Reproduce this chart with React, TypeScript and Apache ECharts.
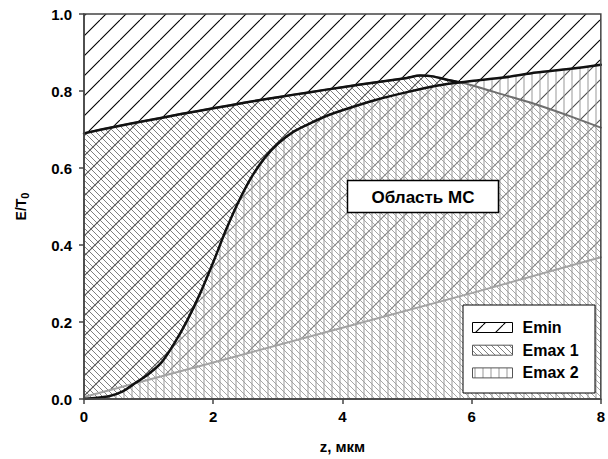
import React, { useEffect, useRef } from 'react';
import * as echarts from 'echarts';

// ---- data ----
const eminZ = [0, 2, 4, 6, 8];
const eminE = [0.005, 0.095, 0.185, 0.275, 0.368];

const emax1Z = [0, 0.5, 1, 1.5, 2, 2.5, 3, 3.5, 4, 4.5, 5, 5.2, 5.4, 5.6, 5.8, 6, 6.5, 7, 7.5, 8];
const emax1E = [0.69, 0.708, 0.724, 0.74, 0.755, 0.77, 0.784, 0.797, 0.81, 0.822, 0.834, 0.84, 0.838, 0.83, 0.823, 0.815, 0.79, 0.765, 0.736, 0.705];

const emax2Z = [0, 0.2, 0.4, 0.6, 0.8, 1.0, 1.2, 1.4, 1.6, 1.8, 2.0, 2.2, 2.4, 2.6, 2.8, 3.0, 3.25, 3.5, 3.75, 4.0, 4.5, 5.0, 5.5, 6.0, 6.5, 7.0, 7.5, 8.0];
const emax2E = [0.0, 0.003, 0.008, 0.02, 0.042, 0.065, 0.095, 0.145, 0.205, 0.275, 0.355, 0.44, 0.515, 0.578, 0.627, 0.663, 0.695, 0.716, 0.735, 0.75, 0.776, 0.797, 0.815, 0.826, 0.835, 0.848, 0.857, 0.868];

const crossingZ = 5.84;

const xTickValues = [0, 2, 4, 6, 8];
const xTickLabels = ['0', '2', '4', '6', '8'];
const yTickValues = [0, 0.2, 0.4, 0.6, 0.8, 1.0];
const yTickLabels = ['0.0', '0.2', '0.4', '0.6', '0.8', '1.0'];

const legendNames = ['Emin', 'Emax 1', 'Emax 2'];
const regionLabel = 'Область МС';

const FONT = '"Liberation Sans", Arial, sans-serif';

const pairs = (xs: number[], ys: number[]) => xs.map((x, i) => [x, ys[i]]);

type Kind = 'fwd' | 'back' | 'vert';

function makeHatch(kind: Kind) {
  const size = kind === 'fwd' ? 20 : kind === 'back' ? 6 : 8;
  const c = document.createElement('canvas');
  c.width = size;
  c.height = size;
  const ctx = c.getContext('2d')!;
  if (kind !== 'fwd') {
    ctx.fillStyle = 'rgba(255,255,255,0.3)';
    ctx.fillRect(0, 0, size, size);
  }
  ctx.beginPath();
  if (kind === 'fwd') {
    ctx.strokeStyle = '#000';
    ctx.lineWidth = 1.1;
    for (let k = -1; k <= 1; k++) {
      ctx.moveTo(k * size, size);
      ctx.lineTo(k * size + size, 0);
    }
  } else if (kind === 'back') {
    ctx.strokeStyle = '#808080';
    ctx.lineWidth = 1;
    for (let k = -1; k <= 1; k++) {
      ctx.moveTo(k * size, 0);
      ctx.lineTo(k * size + size, size);
    }
  } else {
    ctx.strokeStyle = '#999';
    ctx.lineWidth = 1;
    ctx.moveTo(size / 2, 0);
    ctx.lineTo(size / 2, size);
  }
  ctx.stroke();
  return { image: c, repeat: 'repeat', imageWidth: size, imageHeight: size } as any;
}

export default function App() {
  const ref = useRef<HTMLDivElement>(null);

  useEffect(() => {
    if (!ref.current) return;
    const chart = echarts.init(ref.current, undefined, { renderer: 'svg' });

    const kinds: Kind[] = ['fwd', 'back', 'vert'];
    const origins = ['end', 'start', 'start'];
    const datasets = [pairs(eminZ, eminE), pairs(emax1Z, emax1E), pairs(emax2Z, emax2E)];
    const smooths = [false, 0.25, 0.25];

    const areaSeries = legendNames.map((name, i) => ({
      name,
      type: 'line',
      data: datasets[i],
      symbol: 'none',
      smooth: smooths[i],
      lineStyle: { width: 0, opacity: 0 },
      areaStyle: { color: makeHatch(kinds[i]), origin: origins[i], opacity: 1 },
      z: 1 + i,
      silent: true,
    }));

    const envelope = pairs(emax1Z, emax1E).filter((p) => p[0] <= crossingZ);

    const lineSeries = [
      { name: 'Emin line', data: datasets[0], color: '#a3a3a3', width: 2, smooth: false },
      { name: 'Emax 1 line', data: datasets[1], color: '#6e6e6e', width: 2, smooth: 0.25 },
      { name: 'Emax 2 line', data: datasets[2], color: '#111', width: 2.5, smooth: 0.25 },
      { name: 'Envelope', data: envelope, color: '#111', width: 2.5, smooth: 0.25 },
    ].map((s, i) => ({
      name: s.name,
      type: 'line',
      data: s.data,
      symbol: 'none',
      smooth: s.smooth,
      lineStyle: { color: s.color, width: s.width, cap: 'round', join: 'round' },
      z: 10 + i,
      silent: true,
    }));

    const legendX = 463;
    const legendY = 305;
    const rowGap = 22.7;

    const legendChildren: any[] = [
      {
        type: 'rect',
        z: 100,
        shape: { x: 0, y: 0, width: 132, height: 88 },
        style: { fill: '#fff', stroke: '#000', lineWidth: 1 },
      },
    ];
    legendNames.forEach((name, i) => {
      legendChildren.push({
        type: 'rect',
        z: 101,
        shape: { x: 9.5, y: 17.5 + i * rowGap, width: 40, height: 10 },
        style: { fill: makeHatch(kinds[i]), stroke: i === 0 ? '#000' : '#555', lineWidth: 1 },
      });
      legendChildren.push({
        type: 'text',
        z: 101,
        x: 59.5,
        y: 22.5 + i * rowGap,
        style: {
          text: name,
          font: `bold 16px ${FONT}`,
          fill: '#000',
          align: 'left',
          verticalAlign: 'middle',
          textAlign: 'left',
          textVerticalAlign: 'middle',
        },
      });
    });

    chart.setOption({
      animation: false,
      backgroundColor: '#fff',
      grid: {
        left: 84,
        right: 4,
        top: 14,
        bottom: 59,
        show: true,
        borderColor: '#444',
        borderWidth: 1.5,
        backgroundColor: 'transparent',
        z: 20,
      },
      xAxis: {
        type: 'value',
        min: 0,
        max: 8,
        interval: 2,
        name: 'z, мкм',
        nameLocation: 'middle',
        nameGap: 40,
        nameTextStyle: { fontFamily: FONT, fontWeight: 'bold', fontSize: 15, color: '#000' },
        axisLine: { show: true, lineStyle: { color: '#444', width: 1.5 } },
        axisTick: { show: true, length: 5, lineStyle: { color: '#444', width: 1.5 } },
        axisLabel: {
          margin: 10,
          fontFamily: FONT,
          fontWeight: 'bold',
          fontSize: 15,
          color: '#000',
          formatter: (v: number) => {
            const idx = xTickValues.findIndex((t) => Math.abs(t - v) < 1e-9);
            return idx >= 0 ? xTickLabels[idx] : '';
          },
        },
        splitLine: { show: false },
        z: 20,
      },
      yAxis: {
        type: 'value',
        min: 0,
        max: 1,
        interval: 0.2,
        name: 'E/T{s|0}',
        nameLocation: 'middle',
        nameGap: 54,
        nameTextStyle: {
          fontFamily: FONT,
          fontWeight: 'bold',
          fontSize: 14,
          color: '#000',
          rich: { s: { fontFamily: FONT, fontWeight: 'bold', fontSize: 11, color: '#000', padding: [8, 0, 0, 0] } },
        },
        axisLine: { show: true, lineStyle: { color: '#444', width: 1.5 } },
        axisTick: { show: true, length: 5, lineStyle: { color: '#444', width: 1.5 } },
        axisLabel: {
          margin: 12,
          fontFamily: FONT,
          fontWeight: 'bold',
          fontSize: 15,
          color: '#000',
          formatter: (v: number) => {
            const idx = yTickValues.findIndex((t) => Math.abs(t - v) < 1e-9);
            return idx >= 0 ? yTickLabels[idx] : '';
          },
        },
        splitLine: { show: false },
        z: 20,
      },
      series: [...areaSeries, ...lineSeries],
      graphic: [
        {
          type: 'rect',
          z: 100,
          shape: { x: 347.5, y: 180.5, width: 151, height: 32 },
          style: { fill: '#fff', stroke: '#000', lineWidth: 1.5 },
        },
        {
          type: 'text',
          z: 101,
          x: 423,
          y: 197,
          style: {
            text: regionLabel,
            font: `bold 17px ${FONT}`,
            fill: '#000',
            align: 'center',
            verticalAlign: 'middle',
            textAlign: 'center',
            textVerticalAlign: 'middle',
          },
        },
        {
          type: 'group',
          x: legendX,
          y: legendY,
          z: 100,
          children: legendChildren,
        },
      ],
    } as any);

    return () => chart.dispose();
  }, []);

  return (
    <div
      ref={ref}
      style={{ position: 'fixed', left: 0, top: 0, width: 608, height: 459, background: '#fff' }}
    />
  );
}
